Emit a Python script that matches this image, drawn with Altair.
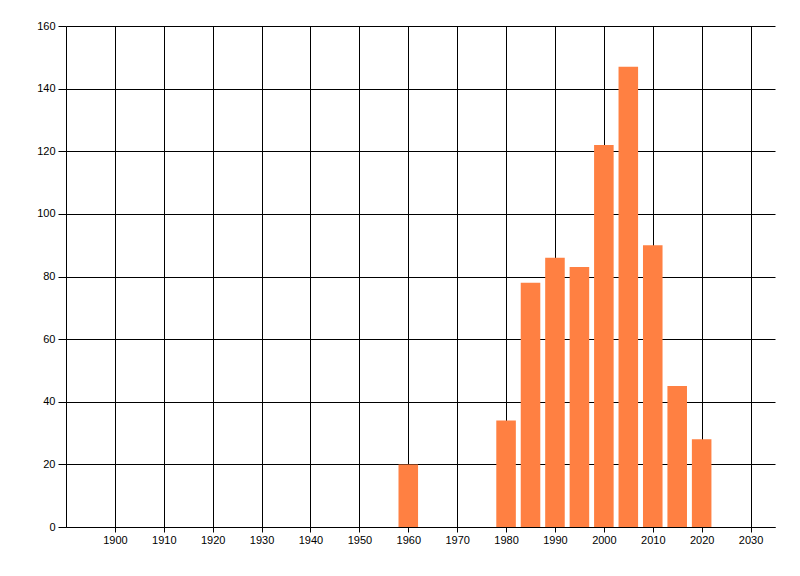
import altair as alt
import pandas as pd

years = [1960, 1980, 1985, 1990, 1995, 2000, 2005, 2010, 2015, 2020]
counts = [20, 34, 78, 86, 83, 122, 147, 90, 45, 28]
x_ticks = list(range(1900, 2031, 10))
y_ticks = list(range(0, 161, 20))

df = pd.DataFrame({"year": years, "count": counts})

chart = alt.Chart(df).transform_calculate(
    x0="datum.year - 2", x1="datum.year + 2"
).mark_bar(color="#FF8042").encode(
    x=alt.X("x0:Q", title=None,
            scale=alt.Scale(domain=[1890, 2035], nice=False, zero=False, padding=0),
            axis=alt.Axis(values=x_ticks, format="d", grid=True, gridColor="black",
                          gridOpacity=1, gridWidth=1, domainColor="black", tickColor="black",
                          tickSize=5, labelPadding=2, labelFont="Liberation Sans",
                          labelFontSize=11, labelColor="black")),
    x2="x1:Q",
    y=alt.Y("count:Q", title=None,
            scale=alt.Scale(domain=[0, 160], nice=False, padding=0),
            axis=alt.Axis(values=y_ticks, grid=True, gridColor="black", gridOpacity=1,
                          gridWidth=1, domainColor="black", tickColor="black", tickSize=8,
                          labelPadding=3, labelFont="Liberation Sans", labelFontSize=11,
                          labelColor="black")),
    y2=alt.datum(0),
).properties(
    width=709, height=501,
    background="white",
    autosize=alt.AutoSizeParams(type="none"),
    padding={"left": 58, "top": 18, "right": 10, "bottom": 40},
).configure_view(strokeWidth=0, stroke="transparent")

chart.save("out.html", embed_options={"renderer": "svg", "actions": False})
